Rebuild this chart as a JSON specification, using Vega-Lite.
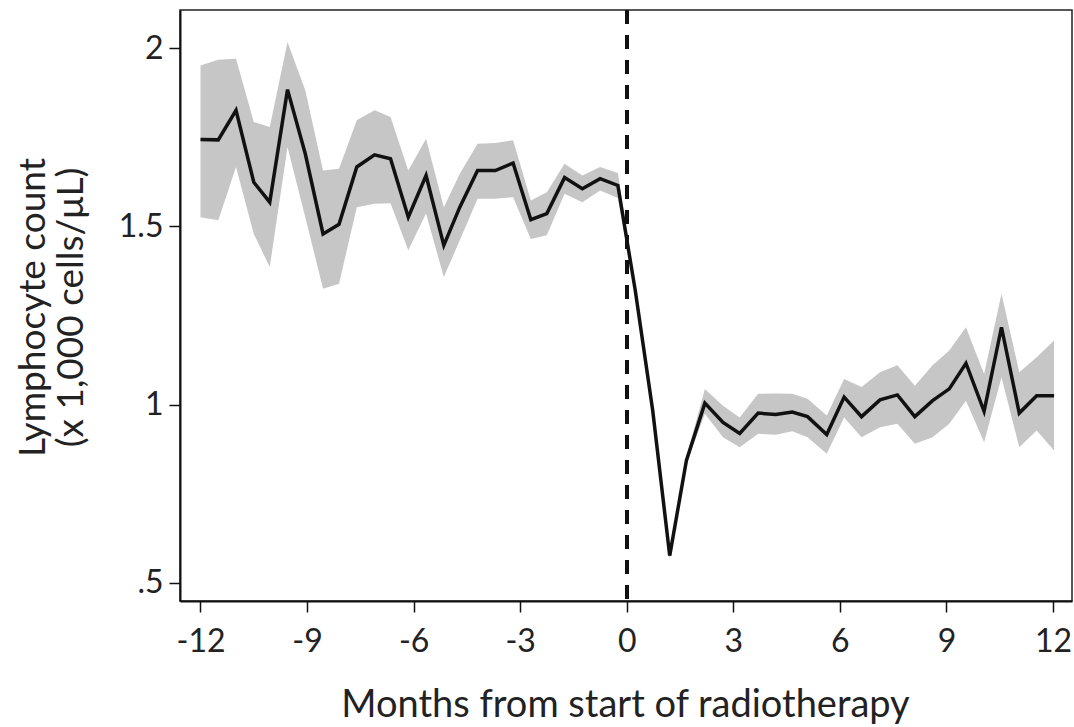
{
  "$schema": "https://vega.github.io/schema/vega-lite/v6.json",
  "autosize": "none",
  "width": 892,
  "height": 591,
  "padding": {"left": 180, "top": 10, "right": 2, "bottom": 126},
  "background": "white",
  "config": {
    "view": {"stroke": "#222", "strokeWidth": 1.5},
    "font": "Lato",
    "axis": {
      "grid": false,
      "domainColor": "#111",
      "domainWidth": 2,
      "tickColor": "#111",
      "tickWidth": 1.5,
      "tickSize": 11,
      "labelColor": "#222",
      "titleColor": "#222",
      "labelFont": "Lato",
      "titleFont": "Lato",
      "titleFontWeight": "normal"
    }
  },
  "data": {
    "values": [
      {"month": -12.0, "mean": 1.744, "lo": 1.526, "hi": 1.952},
      {"month": -11.5, "mean": 1.743, "lo": 1.517, "hi": 1.968},
      {"month": -11.0, "mean": 1.826, "lo": 1.667, "hi": 1.971},
      {"month": -10.5, "mean": 1.624, "lo": 1.479, "hi": 1.793},
      {"month": -10.05, "mean": 1.568, "lo": 1.386, "hi": 1.779},
      {"month": -9.55, "mean": 1.884, "lo": 1.723, "hi": 2.018},
      {"month": -9.05, "mean": 1.704, "lo": 1.526, "hi": 1.882},
      {"month": -8.55, "mean": 1.479, "lo": 1.325, "hi": 1.657},
      {"month": -8.1, "mean": 1.506, "lo": 1.339, "hi": 1.662},
      {"month": -7.6, "mean": 1.667, "lo": 1.554, "hi": 1.798},
      {"month": -7.1, "mean": 1.701, "lo": 1.564, "hi": 1.826},
      {"month": -6.65, "mean": 1.69, "lo": 1.565, "hi": 1.807},
      {"month": -6.15, "mean": 1.526, "lo": 1.433, "hi": 1.657},
      {"month": -5.65, "mean": 1.643, "lo": 1.536, "hi": 1.746},
      {"month": -5.15, "mean": 1.447, "lo": 1.358, "hi": 1.554},
      {"month": -4.7, "mean": 1.554, "lo": 1.461, "hi": 1.648},
      {"month": -4.2, "mean": 1.657, "lo": 1.578, "hi": 1.732},
      {"month": -3.7, "mean": 1.657, "lo": 1.578, "hi": 1.734},
      {"month": -3.2, "mean": 1.678, "lo": 1.582, "hi": 1.742},
      {"month": -2.7, "mean": 1.519, "lo": 1.465, "hi": 1.573},
      {"month": -2.25, "mean": 1.536, "lo": 1.475, "hi": 1.596},
      {"month": -1.75, "mean": 1.637, "lo": 1.592, "hi": 1.676},
      {"month": -1.25, "mean": 1.606, "lo": 1.568, "hi": 1.643},
      {"month": -0.75, "mean": 1.634, "lo": 1.601, "hi": 1.667},
      {"month": -0.25, "mean": 1.615, "lo": 1.58, "hi": 1.65},
      {"month": 0.24, "mean": 1.32, "lo": 1.31, "hi": 1.33},
      {"month": 0.73, "mean": 0.984, "lo": 0.975, "hi": 0.993},
      {"month": 1.21, "mean": 0.576, "lo": 0.566, "hi": 0.586},
      {"month": 1.68, "mean": 0.843, "lo": 0.833, "hi": 0.853},
      {"month": 2.2, "mean": 1.004, "lo": 0.974, "hi": 1.044},
      {"month": 2.71, "mean": 0.95, "lo": 0.908, "hi": 0.997},
      {"month": 3.18, "mean": 0.919, "lo": 0.88, "hi": 0.964},
      {"month": 3.7, "mean": 0.976, "lo": 0.918, "hi": 1.03},
      {"month": 4.19, "mean": 0.972, "lo": 0.915, "hi": 1.031},
      {"month": 4.66, "mean": 0.979, "lo": 0.925, "hi": 1.03},
      {"month": 5.09, "mean": 0.966, "lo": 0.908, "hi": 1.016},
      {"month": 5.63, "mean": 0.916, "lo": 0.862, "hi": 0.969},
      {"month": 6.12, "mean": 1.021, "lo": 0.964, "hi": 1.072},
      {"month": 6.61, "mean": 0.966, "lo": 0.908, "hi": 1.049},
      {"month": 7.13, "mean": 1.013, "lo": 0.936, "hi": 1.091},
      {"month": 7.62, "mean": 1.027, "lo": 0.946, "hi": 1.11},
      {"month": 8.11, "mean": 0.966, "lo": 0.89, "hi": 1.053},
      {"month": 8.61, "mean": 1.011, "lo": 0.908, "hi": 1.11},
      {"month": 9.08, "mean": 1.044, "lo": 0.946, "hi": 1.152},
      {"month": 9.55, "mean": 1.116, "lo": 1.011, "hi": 1.217},
      {"month": 10.06, "mean": 0.981, "lo": 0.894, "hi": 1.086},
      {"month": 10.55, "mean": 1.217, "lo": 1.077, "hi": 1.311},
      {"month": 11.05, "mean": 0.976, "lo": 0.88, "hi": 1.091},
      {"month": 11.54, "mean": 1.025, "lo": 0.927, "hi": 1.133},
      {"month": 12.03, "mean": 1.025, "lo": 0.871, "hi": 1.18}
    ]
  },
  "layer": [
    {
      "mark": {"type": "area", "color": "#c6c6c6", "opacity": 1},
      "encoding": {
        "x": {
          "field": "month", "type": "quantitative",
          "scale": {"domain": [-12.577, 12.535], "nice": false, "zero": false},
          "axis": {
            "values": [-12, -9, -6, -3, 0, 3, 6, 9, 12],
            "labelExpr": "'' + datum.value",
            "labelFontSize": 32,
            "labelPadding": 14,
            "title": "Months from start of radiotherapy",
            "titleFontSize": 38,
            "titleX": 445,
            "titleY": 115,
            "titleAnchor": null,
            "titleAlign": "center",
            "titleBaseline": "alphabetic"
          }
        },
        "y": {
          "field": "lo", "type": "quantitative",
          "scale": {"domain": [0.4486, 2.1075], "nice": false, "zero": false},
          "axis": {
            "values": [0.5, 1, 1.5, 2],
            "labelExpr": "datum.value == 0.5 ? '.5' : format(datum.value, '~g')",
            "labelFontSize": 32,
            "labelPadding": 6,
            "title": ["Lymphocyte count", "(x 1,000 cells/μL)"],
            "titleFontSize": 37,
            "titleLineHeight": 38,
            "titleAngle": -90,
            "titleX": -147,
            "titleY": 297,
            "titleAlign": "center",
            "titleBaseline": "middle"
          }
        },
        "y2": {"field": "hi"}
      }
    },
    {
      "mark": {"type": "rule", "color": "#111", "strokeWidth": 3, "strokeDash": [14, 11]},
      "encoding": {"x": {"datum": 0, "type": "quantitative"}}
    },
    {
      "mark": {"type": "line", "color": "#111", "strokeWidth": 3.5, "strokeJoin": "miter"},
      "encoding": {
        "x": {"field": "month", "type": "quantitative"},
        "y": {"field": "mean", "type": "quantitative"}
      }
    }
  ]
}
